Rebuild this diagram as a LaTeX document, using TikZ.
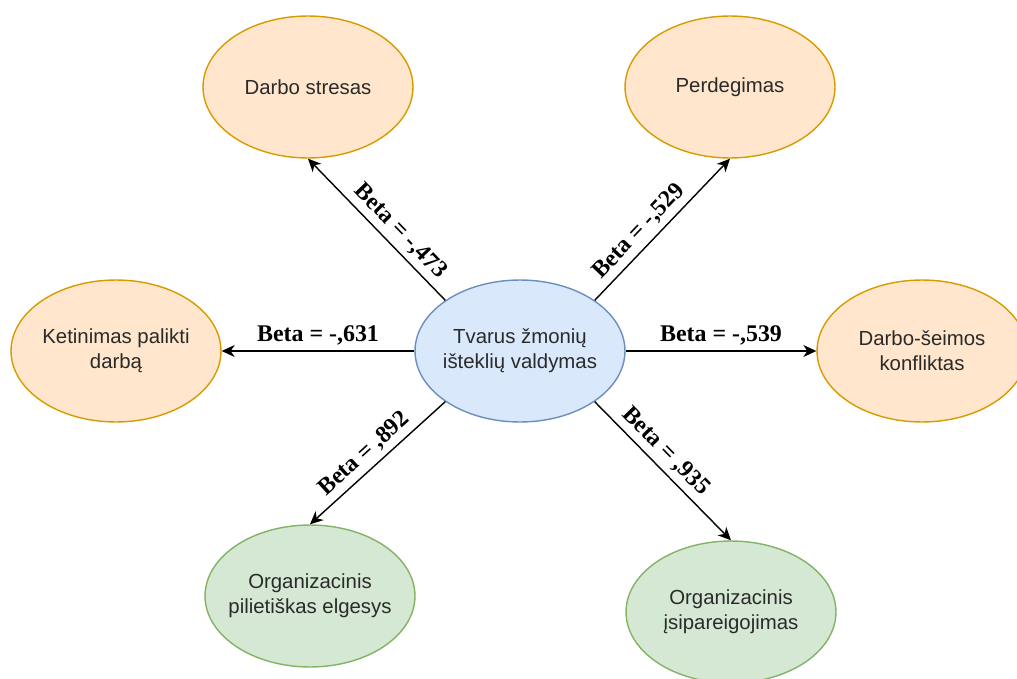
\documentclass[tikz,border=0pt]{standalone}
\usepackage{fontspec}
\setmainfont{Liberation Serif}
\setsansfont{Liberation Sans}
\usetikzlibrary{arrows.meta,shapes.geometric}
\definecolor{hrBlueFill}{HTML}{DAE8FC}
\definecolor{hrBlueLine}{HTML}{6C8EBF}
\definecolor{hrOrangeFill}{HTML}{FFE6CC}
\definecolor{hrOrangeLine}{HTML}{D79B00}
\definecolor{hrGreenFill}{HTML}{D5E8D4}
\definecolor{hrGreenLine}{HTML}{82B366}
\definecolor{hrInk}{HTML}{2A2A2A}
\tikzset{
  hr diagram/.style={font=\sffamily\fontsize{11.6}{14.2}\selectfont, text=hrInk},
  hr var/.style={ellipse, draw, line width=0.8pt, minimum width=4.2cm,
    minimum height=2.84cm, align=center, inner xsep=-30pt, inner ysep=-20pt},
  hr core/.style={hr var, draw=hrBlueLine, fill=hrBlueFill},
  hr risk/.style={hr var, draw=hrOrangeLine, fill=hrOrangeFill},
  hr gain/.style={hr var, draw=hrGreenLine, fill=hrGreenFill},
  hr arrow/.style={-{Stealth[length=2.6mm,width=2.4mm,inset=0.8mm]},
    draw=black, line width=0.8pt},
  hr beta/.style={font=\rmfamily\bfseries\fontsize{13.6}{16}\selectfont,
    text=black, sloped, above, inner sep=3pt}
}
\begin{document}
\begin{tikzpicture}[hr diagram,x=0.02cm,y=-0.02cm]
\useasboundingbox (0,0) rectangle (1017,679);
% centre and outcomes
\node[hr core] (hrm) at (520,351) {Tvarus žmonių\\išteklių valdymas};
\node[hr risk] (stress) at (308,87) {Darbo stresas};
\node[hr risk] (burnout) at (730,87) {Perdegimas};
\node[hr risk] (quit) at (116,351) {Ketinimas palikti\\darbą};
\node[hr risk] (conflict) at (922,351) {Darbo-šeimos\\konfliktas};
\node[hr gain] (ocb) at (310,596) {Organizacinis\\pilietiškas elgesys};
\node[hr gain] (commit) at (731,612) {Organizacinis\\įsipareigojimas};
% effects
\draw[hr arrow] (hrm.north west) -- node[hr beta,pos=0.41] {Beta = -,473} (stress.south);
\draw[hr arrow] (hrm.north east) -- node[hr beta,pos=0.41] {Beta = -,529} (burnout.south);
\draw[hr arrow] (hrm.west) -- node[hr beta] {Beta = -,631} (quit.east);
\draw[hr arrow] (hrm.east) -- node[hr beta] {Beta = -,539} (conflict.west);
\draw[hr arrow] (hrm.south west) -- node[hr beta,pos=0.52] {Beta = ,892} (ocb.north);
\draw[hr arrow] (hrm.south east) -- node[hr beta,pos=0.44] {Beta = ,935} (commit.north);
\end{tikzpicture}
\end{document}
